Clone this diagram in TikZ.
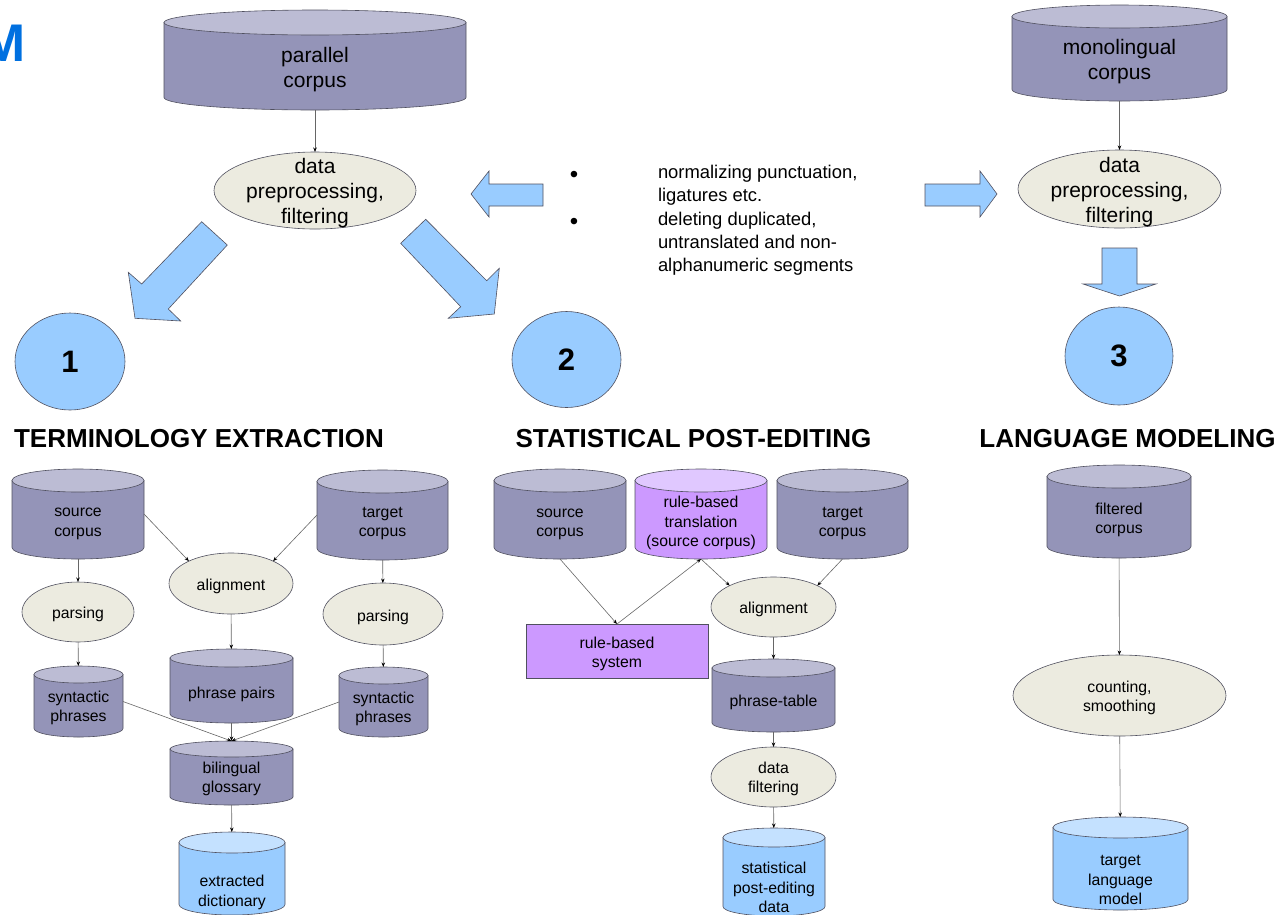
\documentclass[tikz,border=0pt]{standalone}
\usepackage{fontspec}
\setmainfont{Liberation Sans}
\usetikzlibrary{shapes.geometric,arrows.meta}
\definecolor{cylbody}{RGB}{148,148,184}
\definecolor{cyltop}{RGB}{188,188,212}
\definecolor{bluebody}{RGB}{153,204,255}
\definecolor{bluetop}{RGB}{196,225,255}
\definecolor{violbody}{RGB}{204,153,255}
\definecolor{violtop}{RGB}{224,200,255}
\definecolor{procfill}{RGB}{236,235,224}
\definecolor{edgecol}{RGB}{80,80,95}
\definecolor{titleblue}{RGB}{0,112,224}
\newcommand\fntA{\fontsize{21}{25}\selectfont}
\newcommand\fntB{\fontsize{15.8}{19.3}\selectfont}
\newcommand\fntC{\fontsize{18.4}{23}\selectfont}
\newcommand\fntD{\fontsize{24}{26}\selectfont}
\newcommand\fntT{\fontsize{26}{30}\selectfont\bfseries}
\newcommand\fntN{\fontsize{31}{36}\selectfont\bfseries}
\newcommand\fntM{\fontsize{53}{60}\selectfont\bfseries}
\newcommand\cyl[8]{%
  \pgfmathsetmacro\cxl{#2-#5/2}%
  \pgfmathsetmacro\cxr{#2+#5/2}%
  \pgfmathsetmacro\cyt{#3+#6}%
  \pgfmathsetmacro\cyb{#4-#6}%
  \pgfmathsetmacro\crx{#5/2}%
  \pgfmathsetmacro\kx{0.5523*#5/2}%
  \pgfmathsetmacro\ky{0.5523*#6}%
  \pgfmathsetmacro\cym{(#3+#4)/2}%
  \pgfmathsetmacro\chh{#4-#3}%
  \filldraw[cylline, fill=#7] (\cxl,\cyt) -- (\cxl,\cyb) .. controls (\cxl,\cyb+\ky) and (#2-\kx,#4) .. (#2,#4) .. controls (#2+\kx,#4) and (\cxr,\cyb+\ky) .. (\cxr,\cyb) -- (\cxr,\cyt) -- cycle;
  \filldraw[cylline, fill=#8] (#2,\cyt) ellipse [x radius=\crx, y radius=#6];
  \node[inner sep=0pt, outer sep=0pt, minimum width=#5, minimum height=\chh] (#1) at (#2,\cym) {};
}
\tikzset{
  cylline/.style={draw=edgecol, line width=0.6pt},
  proc/.style={ellipse, draw=edgecol, line width=0.6pt, fill=procfill, inner sep=0pt, outer sep=0pt},
  numcirc/.style={ellipse, draw=edgecol, line width=0.6pt, fill=bluebody, inner sep=0pt, outer sep=0pt, font=\fntN},
  txt/.style={align=center, inner sep=0pt, outer sep=0pt, text=black, yshift=-2.2pt},
  conn/.style={draw=black!60, line width=0.6pt, -{Stealth[length=4.5pt, width=3.5pt, black]}},
  bigarrow/.style={fill=bluebody, draw=edgecol, line width=0.6pt, line join=miter},
  ttl/.style={inner sep=0pt, font=\fntT},
}
\begin{document}
\begin{tikzpicture}[x=1pt, y=-1pt]
\useasboundingbox (0,0) rectangle (1280,914);
\clip (0,0) rectangle (1280,914);

% cropped title letter
\node[anchor=west, inner sep=0pt, text=titleblue, font=\fntM] (ttlM) at (-18.6,43) {M};

% ---------- top row ----------
\cyl{pc}{315}{10}{110}{302}{12.5}{cylbody}{cyltop}
\node[txt, font=\fntA] (pct) at (315,67.5) {\strut parallel\\\strut corpus};
\node[proc, minimum width=202, minimum height=77] (dp1) at (315,190.5) {};
\node[txt, font=\fntA] (dp1t) at (315,191.5) {\strut data\\\strut preprocessing,\\\strut filtering};

\cyl{mc}{1119.5}{5}{101}{215}{11.5}{cylbody}{cyltop}
\node[txt, font=\fntA] (mct) at (1119.5,60) {\strut monolingual\\\strut corpus};
\node[proc, minimum width=203, minimum height=78] (dp2) at (1119.5,189) {};
\node[txt, font=\fntA] (dp2t) at (1119.5,190.5) {\strut data\\\strut preprocessing,\\\strut filtering};

\draw[conn] (pc) -- (dp1);
\draw[conn] (mc) -- (dp2);

% block arrows
\draw[bigarrow] (201.7,221.7) -- (227.3,245) -- (168.3,309) -- (180.7,321) -- (135,318.3) -- (128.3,272.3) -- (141.7,284) -- cycle;
\draw[bigarrow] (425.7,219.3) -- (400.7,243.3) -- (460.7,306.7) -- (448.3,318.3) -- (494.3,314) -- (499.3,268.3) -- (486.7,280.7) -- cycle;
\draw[bigarrow] (543,184) -- (489,184) -- (489,171) -- (471,194) -- (489,217) -- (489,206) -- (543,206) -- cycle;
\draw[bigarrow] (925,184) -- (980,184) -- (980,171) -- (997,194) -- (980,217) -- (980,206) -- (925,206) -- cycle;
\draw[bigarrow] (1102,248) -- (1137,248) -- (1137,284) -- (1156,284) -- (1119.5,296) -- (1083,284) -- (1102,284) -- cycle;

% bullet list
\node[txt, font=\fntD] (b1) at (574,175) {•};
\node[txt, font=\fntD] (b2) at (574,222) {•};
\node[txt, font=\fntC, anchor=west, align=left] (b1t) at (658,183) {\strut normalizing punctuation,\\\strut ligatures etc.};
\node[txt, font=\fntC, anchor=west, align=left] (b2t) at (658,242) {\strut deleting duplicated,\\\strut untranslated and non-\\\strut alphanumeric segments};

% number circles
\node[numcirc, minimum width=110, minimum height=97] (c1) at (70,361.5) {1};
\node[numcirc, minimum width=109, minimum height=96] (c2) at (566.5,359.5) {2};
\node[numcirc, minimum width=108, minimum height=98] (c3) at (1119,356) {3};

% titles
\node[ttl] (t1) at (199,438.5) {TERMINOLOGY EXTRACTION};
\node[ttl] (t2) at (693.5,438.5) {STATISTICAL POST-EDITING};
\node[ttl] (t3) at (1127.5,439) {LANGUAGE MODELING};

% ---------- section 1 ----------
\cyl{sc1}{78}{469}{559}{132}{11.5}{cylbody}{cyltop}
\node[txt, font=\fntB] at (78,520.5) {\strut source\\\strut corpus};
\cyl{tc1}{382.5}{470}{560}{131}{11.5}{cylbody}{cyltop}
\node[txt, font=\fntB] at (382.5,521) {\strut target\\\strut corpus};
\node[proc, minimum width=124, minimum height=61] (al1) at (231,583.5) {};
\node[txt, font=\fntB] at (231,584) {\strut alignment};
\node[proc, minimum width=112, minimum height=60] (pa1) at (78,612) {};
\node[txt, font=\fntB] at (78,612.3) {\strut parsing};
\node[proc, minimum width=120, minimum height=62] (pa2) at (383,614) {};
\node[txt, font=\fntB] at (383,615) {\strut parsing};
\cyl{syn1}{78.5}{666}{737}{89}{8.5}{cylbody}{cyltop}
\node[txt, font=\fntB] at (78.5,706) {\strut syntactic\\\strut phrases};
\cyl{pp}{231.5}{649}{723}{123}{9}{cylbody}{cyltop}
\node[txt, font=\fntB] at (231.5,692) {\strut phrase pairs};
\cyl{syn2}{383.5}{667}{737}{89}{8.5}{cylbody}{cyltop}
\node[txt, font=\fntB] at (383.5,707) {\strut syntactic\\\strut phrases};
\cyl{gl}{231.5}{741}{805}{123}{8}{cylbody}{cyltop}
\node[txt, font=\fntB] at (231.5,777) {\strut bilingual\\\strut glossary};
\cyl{ed}{232}{832}{915}{106}{10.5}{bluebody}{bluetop}
\node[txt, font=\fntB] at (232,890.5) {\strut extracted\\\strut dictionary};

\draw[conn] (sc1.east) -- (al1.152);
\draw[conn] (tc1.west) -- (al1.28);
\draw[conn] (sc1) -- (pa1);
\draw[conn] (pa1) -- (syn1);
\draw[conn] (tc1) -- (pa2);
\draw[conn] (pa2) -- (syn2);
\draw[conn] (al1) -- (pp);
\draw[conn] (syn1.east) -- (gl.north);
\draw[conn] (syn2.west) -- (gl.north);
\draw[conn] (pp) -- (gl);
\draw[conn] (gl) -- (ed);

% ---------- section 2 ----------
\cyl{sc2}{560}{469}{559}{132}{11.5}{cylbody}{cyltop}
\node[txt, font=\fntB] at (560,520.7) {\strut source\\\strut corpus};
\cyl{rbt}{701}{469}{559}{132}{11.5}{violbody}{violtop}
\node[txt, font=\fntB] at (701,521) {\strut rule-based\\\strut translation\\\strut (source corpus)};
\cyl{tc2}{842.5}{469}{559}{131}{11.5}{cylbody}{cyltop}
\node[txt, font=\fntB] at (842.5,521) {\strut target\\\strut corpus};
\node[draw=edgecol, line width=0.6pt, fill=violbody, minimum width=182, minimum height=54, inner sep=0pt, outer sep=0pt] (rbs) at (617,651) {};
\node[txt, font=\fntB] at (617,652) {\strut rule-based\\\strut system};
\node[proc, minimum width=125, minimum height=60] (al2) at (773.5,607) {};
\node[txt, font=\fntB] at (773.5,607.7) {\strut alignment};
\cyl{pt}{773.5}{659}{732}{123}{9}{cylbody}{cyltop}
\node[txt, font=\fntB] at (773.5,700.7) {\strut phrase-table};
\node[proc, minimum width=125, minimum height=60] (df) at (773.5,777) {};
\node[txt, font=\fntB] at (773.5,777) {\strut data\\\strut filtering};
\cyl{sd}{774}{828}{916}{102}{9.5}{bluebody}{bluetop}
\node[txt, font=\fntB] at (774,887) {\strut statistical\\\strut post-editing\\\strut data};

\draw[conn] (sc2.south) -- (rbs.north);
\draw[conn] (rbs.north) -- (rbt.south);
\draw[conn] (rbt.south) -- (al2.154);
\draw[conn] (tc2.south) -- (al2.26);
\draw[conn] (al2) -- (pt);
\draw[conn] (pt) -- (df);
\draw[conn] (df) -- (sd);

% ---------- section 3 ----------
\cyl{fc}{1119}{465}{558}{144}{11.5}{cylbody}{cyltop}
\node[txt, font=\fntB] at (1119,518) {\strut filtered\\\strut corpus};
\node[proc, minimum width=213, minimum height=81] (cs) at (1119.5,695.5) {};
\node[txt, font=\fntB] at (1119.5,696) {\strut counting,\\\strut smoothing};
\cyl{lm}{1120.5}{817}{910}{135}{10.5}{bluebody}{bluetop}
\node[txt, font=\fntB] at (1120.5,879) {\strut target\\\strut language\\\strut model};

\draw[conn] (fc) -- (cs);
\draw[conn] (cs) -- (lm);
\end{tikzpicture}
\end{document}
